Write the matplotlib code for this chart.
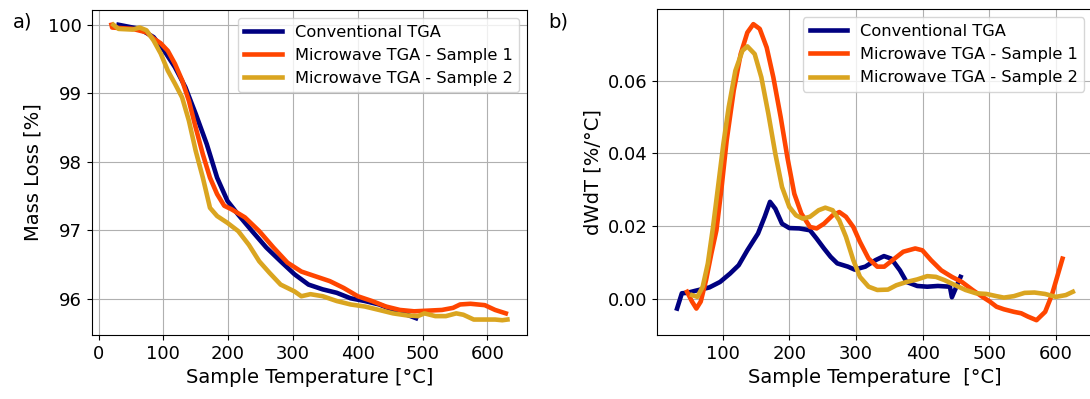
import numpy as np
import matplotlib
matplotlib.use('Agg')
import matplotlib.pyplot as plt

# 数据
conv_T = [31, 63.5, 85, 101.5, 118, 134, 150, 167, 183, 199, 215.6, 237, 259, 281,
          302.5, 324, 346, 367.6, 389, 411, 433, 454.5, 476, 490]
conv_m = [100.0, 99.94, 99.82, 99.62, 99.38, 99.09, 98.70, 98.26, 97.77, 97.43, 97.23,
          96.99, 96.75, 96.55, 96.36, 96.21, 96.14, 96.09, 96.01, 95.97, 95.92, 95.84,
          95.77, 95.72]

mw1_T = [20, 21, 52.7, 74, 85, 96, 107, 118, 129, 139.5, 150, 161, 172, 183, 194, 205,
         226, 248, 270, 291.6, 313, 335, 357, 378.5, 400, 422, 443.6, 465, 487, 509, 530,
         547, 558, 574, 596, 612, 628.5]
mw1_m = [100.0, 99.96, 99.94, 99.89, 99.80, 99.73, 99.62, 99.43, 99.19, 98.89, 98.50,
         98.11, 97.77, 97.53, 97.36, 97.31, 97.19, 96.99, 96.75, 96.53, 96.40, 96.33,
         96.26, 96.16, 96.04, 95.97, 95.89, 95.84, 95.82, 95.83, 95.84, 95.87, 95.92,
         95.93, 95.91, 95.84, 95.79]

mw2_T = [23, 31, 52.7, 63.5, 74, 85, 96, 107, 118, 129, 139.5, 150, 161, 172, 183, 199,
         215.6, 232, 248, 264, 281, 302.5, 313, 327, 346, 367.6, 389, 411, 433, 454.5,
         476, 492.6, 503, 519.8, 536, 552, 563, 579, 596, 612, 623, 631]
mw2_m = [100.0, 99.94, 99.93, 99.96, 99.92, 99.77, 99.58, 99.33, 99.14, 98.94, 98.60,
         98.16, 97.77, 97.33, 97.21, 97.11, 96.99, 96.79, 96.55, 96.38, 96.21, 96.11,
         96.04, 96.07, 96.04, 95.97, 95.92, 95.89, 95.84, 95.79, 95.76, 95.75, 95.79,
         95.75, 95.75, 95.79, 95.77, 95.70, 95.70, 95.70, 95.69, 95.70]

# dW/dT
conv_dT = [31.5, 38.7, 46.5, 59.5, 80, 96, 111, 124, 137, 153, 163, 171, 179, 189, 200,
           215, 231, 241, 252, 262, 272, 288, 298, 314, 329.5, 342, 353, 366, 376, 392,
           407, 423, 441, 444, 457]
conv_d = [-0.0026, 0.0016, 0.0017, 0.0023, 0.0032, 0.0047, 0.0070, 0.0093, 0.0134,
          0.0180, 0.0226, 0.0267, 0.0248, 0.0207, 0.0195, 0.0194, 0.0189, 0.0166,
          0.0139, 0.0116, 0.0098, 0.0089, 0.0081, 0.0089, 0.0107, 0.0118, 0.0111,
          0.0079, 0.0047, 0.0036, 0.0034, 0.0036, 0.0034, 0.0005, 0.0061]

mw1_dT = [46.5, 54, 60.5, 67, 75, 83, 90.6, 98.4, 106, 116.6, 127, 137, 146, 155.6, 166,
          176, 187, 197, 207.5, 218, 231, 241, 252, 265, 275, 285, 296, 306, 319, 332,
          342.5, 355, 371, 389, 399.6, 412.6, 428, 444, 459, 475, 490, 501, 511, 522,
          537, 548, 558, 571, 584, 594, 602, 610]
mw1_d = [0.0020, -0.0007, -0.0026, -0.0007, 0.0052, 0.0125, 0.0189, 0.0308, 0.0436,
         0.0573, 0.0673, 0.0732, 0.0755, 0.0742, 0.0691, 0.0609, 0.0500, 0.0390, 0.0289,
         0.0235, 0.0198, 0.0194, 0.0207, 0.0230, 0.0239, 0.0226, 0.0198, 0.0157, 0.0111,
         0.0089, 0.0089, 0.0107, 0.0130, 0.0139, 0.0134, 0.0107, 0.0079, 0.0061, 0.0047,
         0.0025, 0.0006, -0.0007, -0.0021, -0.0028, -0.0035, -0.0039, -0.0048, -0.0058,
         -0.0035, 0.0011, 0.0061, 0.0111]

mw2_dT = [54, 62, 70, 77.7, 85.5, 93, 101, 109, 119, 129.6, 137, 148, 158, 168.5, 179,
          189, 200, 210, 220, 231, 244, 254, 265, 275, 285, 296, 306, 319, 332, 348,
          360.6, 376, 392, 407, 420, 433, 449, 464.5, 480, 496, 511, 522, 537, 553, 568,
          584, 600, 615, 625.5]
mw2_d = [0.0011, 0.0006, 0.0034, 0.0098, 0.0198, 0.0308, 0.0426, 0.0527, 0.0627, 0.0682,
         0.0694, 0.0673, 0.0609, 0.0509, 0.0399, 0.0308, 0.0253, 0.0230, 0.0221, 0.0226,
         0.0244, 0.0251, 0.0244, 0.0216, 0.0171, 0.0107, 0.0061, 0.0034, 0.0025, 0.0026,
         0.0038, 0.0047, 0.0054, 0.0063, 0.0061, 0.0052, 0.0038, 0.0025, 0.0016, 0.0014,
         0.0008, 0.0004, 0.0008, 0.0017, 0.0018, 0.0014, 0.0006, 0.0011, 0.0020]

labels = ['Conventional TGA', 'Microwave TGA - Sample 1', 'Microwave TGA - Sample 2']
colors = ['navy', 'orangered', 'goldenrod']

plt.rcParams['font.size'] = 13
plt.rcParams['axes.labelsize'] = 14

fig = plt.figure(figsize=(10.9, 3.99), dpi=100)
ax1 = fig.add_axes([0.0841, 0.1604, 0.3996, 0.8145])
ax2 = fig.add_axes([0.603, 0.1604, 0.3994, 0.8162])

lw = 3.3
leg_kw = dict(loc='upper right', fontsize=11.7, handlelength=2.3, labelspacing=0.5,
              borderaxespad=0.5)

ax1.plot(conv_T, conv_m, color=colors[0], lw=lw, label=labels[0])
ax1.plot(mw1_T, mw1_m, color=colors[1], lw=lw, label=labels[1])
ax1.plot(mw2_T, mw2_m, color=colors[2], lw=lw, label=labels[2])
ax1.set_xlabel('Sample Temperature [°C]')
ax1.set_ylabel('Mass Loss [%]')
ax1.set_xticks([0, 100, 200, 300, 400, 500, 600])
ax1.set_yticks([96, 97, 98, 99, 100])
ax1.grid(True)
ax1.legend(**leg_kw)

ax2.plot(conv_dT, conv_d, color=colors[0], lw=lw, label=labels[0])
ax2.plot(mw1_dT, mw1_d, color=colors[1], lw=lw, label=labels[1])
ax2.plot(mw2_dT, mw2_d, color=colors[2], lw=lw, label=labels[2])
ax2.set_xlabel('Sample Temperature  [°C]')
ax2.set_ylabel('dWdT [%/°C]')
ax2.set_xticks([100, 200, 300, 400, 500, 600])
ax2.set_yticks([0.0, 0.02, 0.04, 0.06])
ax2.grid(True)
ax2.legend(**leg_kw)

fig.text(0.0117, 0.946, 'a)', fontsize=14, va='center')
fig.text(0.503, 0.946, 'b)', fontsize=14, va='center')

fig.savefig('out.png', dpi=100)
